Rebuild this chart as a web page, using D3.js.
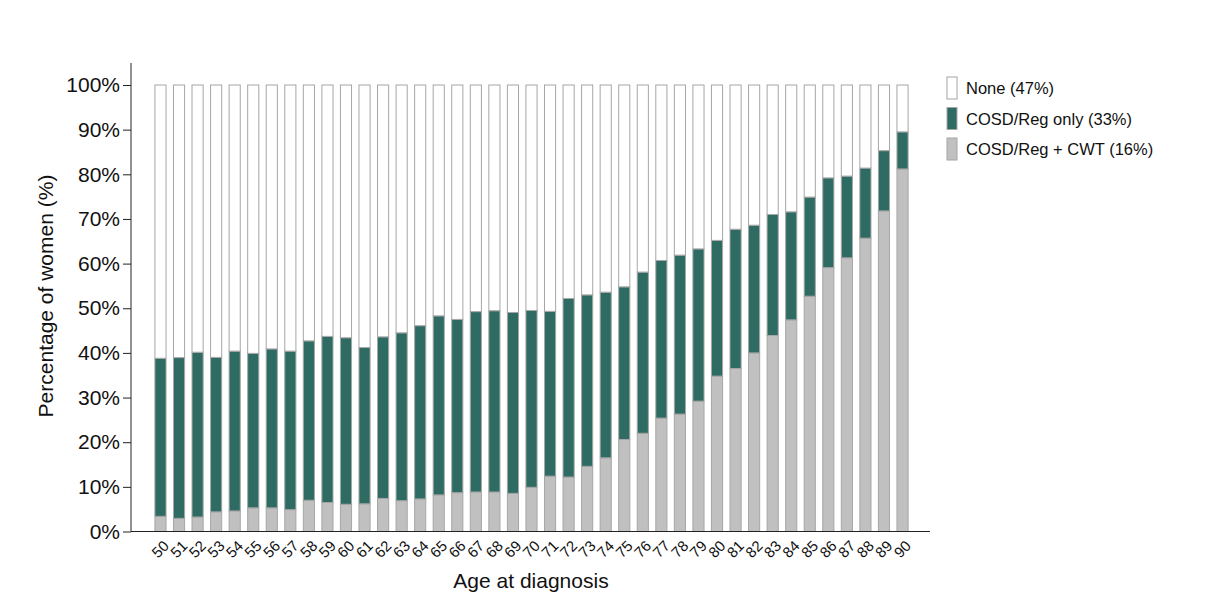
<!DOCTYPE html>
<html>
<head>
<meta charset="utf-8">
<script src="https://cdn.jsdelivr.net/npm/d3@7"></script>
<style>
  body { margin: 0; background: #fff; }
  svg { display: block; font-family: "Liberation Sans", Arial, sans-serif; }
</style>
</head>
<body>
<div id="chart"></div>
<script>
// Age at diagnosis (x categories)
const ages = [50, 51, 52, 53, 54, 55, 56, 57, 58, 59,
              60, 61, 62, 63, 64, 65, 66, 67, 68, 69,
              70, 71, 72, 73, 74, 75, 76, 77, 78, 79,
              80, 81, 82, 83, 84, 85, 86, 87, 88, 89, 90];

// COSD/Reg + CWT (grey, bottom segment), % of women
const cosdCwt = [3.4, 2.95, 3.25, 4.4, 4.6, 5.3, 5.3, 4.9, 7.0, 6.5,
                 6.1, 6.2, 7.4, 6.9, 7.3, 8.2, 8.7, 8.85, 8.85, 8.55,
                 9.9, 12.4, 12.2, 14.6, 16.5, 20.6, 22.0, 25.4, 26.3, 29.2,
                 34.8, 36.5, 40.0, 43.9, 47.4, 52.7, 59.1, 61.3, 65.7, 71.8, 81.2];

// COSD/Reg only (green, middle segment)
const cosdOnly = [35.4, 36.0, 36.9, 34.6, 35.8, 34.6, 35.6, 35.5, 35.7, 37.2,
                  37.3, 35.0, 36.2, 37.6, 38.8, 40.1, 38.8, 40.4, 40.6, 40.5,
                  39.6, 36.9, 40.0, 38.4, 37.1, 34.2, 36.1, 35.3, 35.6, 34.1,
                  30.4, 31.2, 28.6, 27.1, 24.2, 22.2, 20.1, 18.3, 15.7, 13.5, 8.3];

const yTicks = [0, 10, 20, 30, 40, 50, 60, 70, 80, 90, 100];

const legendItems = [
  {key: "none", label: "None (47%)", color: "#ffffff"},
  {key: "only", label: "COSD/Reg only (33%)", color: "#2d6b63"},
  {key: "cwt", label: "COSD/Reg + CWT (16%)", color: "#c0c0c0"}
];

const width = 1208, height = 594;
const colorOf = {cwt: "#c0c0c0", only: "#2d6b63", none: "#ffffff"};

const rows = ages.map((a, i) => ({
  age: a,
  cwt: cosdCwt[i],
  only: cosdOnly[i],
  none: 100 - cosdCwt[i] - cosdOnly[i]
}));

const series = d3.stack().keys(["cwt", "only", "none"])(rows);

const svg = d3.select("#chart").append("svg")
  .attr("width", width)
  .attr("height", height);

const axisX0 = 131, axisX1 = 930;
const x = d3.scaleBand()
  .domain(ages)
  .range([151.2, 911.8])
  .paddingInner(0.4)
  .paddingOuter(0.2);

const y = d3.scaleLinear()
  .domain([0, 100])
  .range([531.5, 85]);

// bars
svg.append("g")
  .selectAll("g")
  .data(series)
  .join("g")
  .attr("fill", d => colorOf[d.key])
  .selectAll("rect")
  .data(d => d)
  .join("rect")
  .attr("x", d => x(d.data.age))
  .attr("y", d => y(d[1]))
  .attr("width", x.bandwidth())
  .attr("height", d => y(d[0]) - y(d[1]))
  .attr("stroke", "#a6a6a6")
  .attr("stroke-width", 1);

// y axis
const yAxis = svg.append("g")
  .attr("transform", `translate(${axisX0},0)`)
  .call(d3.axisLeft(y).tickValues(yTicks).tickFormat(d => d + "%").tickSize(8).tickSizeOuter(0));
yAxis.select(".domain").attr("d", `M0,${y(0)}V63`).attr("stroke", "#222");
yAxis.selectAll(".tick line").attr("stroke", "#222");
yAxis.selectAll(".tick text")
  .attr("x", -11)
  .attr("font-size", 21)
  .attr("font-family", "Liberation Sans, Arial, sans-serif")
  .attr("fill", "#111");

// x axis line
svg.append("line")
  .attr("x1", axisX0).attr("x2", axisX1)
  .attr("y1", y(0)).attr("y2", y(0))
  .attr("stroke", "#222");

// x tick labels
svg.append("g")
  .selectAll("text")
  .data(ages)
  .join("text")
  .attr("transform", d => `translate(${x(d) + x.bandwidth() / 2 + 2},${y(0) + 8}) rotate(-45)`)
  .attr("text-anchor", "end")
  .attr("dy", "0.7em")
  .attr("font-size", 15)
  .attr("fill", "#111")
  .text(d => d);

// axis titles
svg.append("text")
  .attr("x", 531).attr("y", 588)
  .attr("text-anchor", "middle")
  .attr("font-size", 21)
  .attr("fill", "#111")
  .text("Age at diagnosis");

svg.append("text")
  .attr("transform", `translate(53,296) rotate(-90)`)
  .attr("text-anchor", "middle")
  .attr("font-size", 21)
  .attr("fill", "#111")
  .text("Percentage of women (%)");

// legend
const legend = svg.append("g")
  .attr("transform", "translate(947,77)");

legend.selectAll("g")
  .data(legendItems)
  .join("g")
  .attr("transform", (d, i) => `translate(0,${i * 30.5})`)
  .call(g => {
    g.append("rect")
      .attr("width", 10)
      .attr("height", 22)
      .attr("fill", d => d.color)
      .attr("stroke", "#a6a6a6");
    g.append("text")
      .attr("x", 19)
      .attr("y", 17)
      .attr("font-size", 16.5)
      .attr("fill", "#111")
      .text(d => d.label);
  });
</script>
</body>
</html>
